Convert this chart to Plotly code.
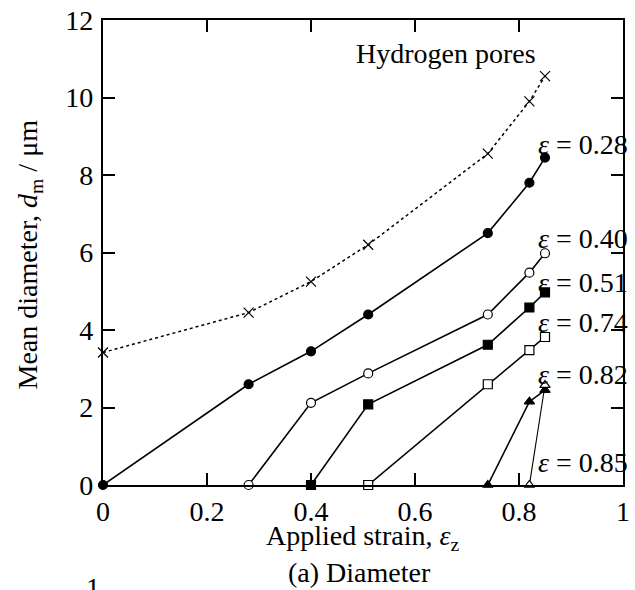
import plotly.graph_objects as go

# Data
h_x = [0, 0.28, 0.40, 0.51, 0.74, 0.82, 0.85]
h_y = [3.42, 4.45, 5.25, 6.2, 8.55, 9.9, 10.55]

s028_x = [0, 0.28, 0.40, 0.51, 0.74, 0.82, 0.85]
s028_y = [0, 2.6, 3.45, 4.4, 6.5, 7.8, 8.45]

s040_x = [0.28, 0.40, 0.51, 0.74, 0.82, 0.85]
s040_y = [0, 2.12, 2.88, 4.4, 5.48, 5.98]

s051_x = [0.40, 0.51, 0.74, 0.82, 0.85]
s051_y = [0, 2.08, 3.62, 4.58, 4.97]

s074_x = [0.51, 0.74, 0.82, 0.85]
s074_y = [0, 2.6, 3.48, 3.82]

s082_x = [0.74, 0.82, 0.85]
s082_y = [0, 2.15, 2.45]

s085_x = [0.82, 0.85]
s085_y = [0, 2.58]

labels = ["0.28", "0.40", "0.51", "0.74", "0.82", "0.85"]
label_y = [8.8, 6.37, 5.23, 4.2, 2.84, 0.59]

FONT = "Liberation Serif, Times New Roman, serif"
FS = 28

# plot area in pixels (for placing outside texts)
PL, PR, PT, PB = 103, 630, 19, 485


def px_x(p):
    return (p - PL) / (PR - PL)


def px_y(p):
    return (PB - p) / (PB - PT)


fig = go.Figure()

fig.add_trace(go.Scatter(x=h_x, y=h_y, mode="lines+markers",
                         line=dict(color="black", width=1.5, dash="dot"),
                         marker=dict(symbol="x-thin-open", size=10, color="black",
                                     line=dict(width=1.2, color="black")),
                         cliponaxis=False, showlegend=False))

series = [
    (s028_x, s028_y, "circle", "black", 1.6),
    (s040_x, s040_y, "circle", "white", 1.6),
    (s051_x, s051_y, "square", "black", 1.6),
    (s074_x, s074_y, "square", "white", 1.6),
    (s082_x, s082_y, "triangle-up", "black", 1.6),
    (s085_x, s085_y, "triangle-up", "white", 1.1),
]
for xs, ys, sym, fc, lw in series:
    fig.add_trace(go.Scatter(x=xs, y=ys, mode="lines+markers",
                             line=dict(color="black", width=lw),
                             marker=dict(symbol=sym, size=9, color=fc,
                                         line=dict(width=1.2, color="black")),
                             cliponaxis=False, showlegend=False))

tf = dict(family=FONT, size=FS, color="black")
annotations = []
for lab, ly in zip(labels, label_y):
    annotations.append(dict(x=px_x(637), y=ly, xref="paper", yref="y", xanchor="right",
                            yanchor="middle", showarrow=False,
                            text="<i>ε</i> = " + lab, font=tf))
annotations.append(dict(x=0.66, y=11.13, xref="x", yref="y", xanchor="center",
                        yanchor="middle", showarrow=False, text="Hydrogen pores",
                        font=tf))
annotations.append(dict(x=px_x(366), y=px_y(538), xref="paper", yref="paper",
                        xanchor="center", yanchor="middle", showarrow=False,
                        text="Applied strain, <i>ε</i><sub>z</sub>", font=tf))
annotations.append(dict(x=px_x(363), y=px_y(573), xref="paper", yref="paper",
                        xanchor="center", yanchor="middle", showarrow=False,
                        text="(a) Diameter", font=tf))
annotations.append(dict(x=px_x(29), y=px_y(254), xref="paper", yref="paper",
                        xanchor="center", yanchor="middle", showarrow=False,
                        textangle=-90,
                        text="Mean diameter, <i>d</i><sub>m</sub> / μm", font=tf))
annotations.append(dict(x=px_x(93), y=px_y(570), xref="paper", yref="paper",
                        xanchor="center", yanchor="top", showarrow=False,
                        text="1", font=tf))

fig.update_layout(
    width=635, height=590,
    margin=dict(l=PL, r=635 - PR, t=PT, b=590 - PB),
    paper_bgcolor="white", plot_bgcolor="white",
    font=tf,
    xaxis=dict(range=[0, 1], tickvals=[0, 0.2, 0.4, 0.6, 0.8, 1],
               ticktext=["0", "0.2", "0.4", "0.6", "0.8", "1"],
               ticks="inside", ticklen=12, tickwidth=2, tickcolor="black",
               showline=True, linewidth=2.2, linecolor="black", mirror="ticks",
               showgrid=False, zeroline=False, tickfont=tf),
    yaxis=dict(range=[0, 12], tickvals=[0, 2, 4, 6, 8, 10, 12],
               ticks="inside", ticklen=12, tickwidth=2, tickcolor="black",
               showline=True, linewidth=2.2, linecolor="black", mirror="ticks",
               showgrid=False, zeroline=False, tickfont=tf,
               ticklabelstandoff=2),
    annotations=annotations,
)

fig.write_html("out.html")
